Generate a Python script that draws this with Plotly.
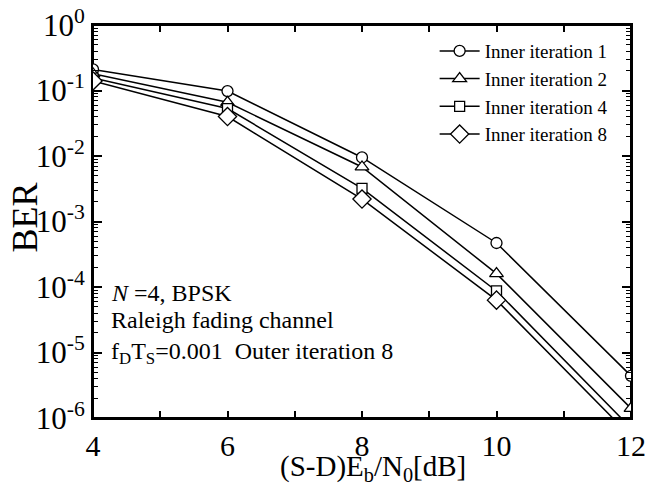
import plotly.graph_objects as go

snr_db = [4, 6, 8, 10, 12]
ber_inner1 = [0.21, 0.098, 0.0095, 4.7e-4, 4.4e-6]
ber_inner2 = [0.18, 0.066, 0.0068, 1.6e-4, 1.4e-6]
ber_inner4 = [0.155, 0.053, 0.0032, 8.7e-5, 7.0e-7]
ber_inner8 = [0.14, 0.040, 0.0022, 6.3e-5, 5.2e-7]

series_names = ["Inner iteration 1", "Inner iteration 2", "Inner iteration 4", "Inner iteration 8"]
series_values = [ber_inner1, ber_inner2, ber_inner4, ber_inner8]
symbols = ["circle", "triangle-up", "square", "diamond"]
sizes = [11, 12, 10, 14]

y_tick_vals = [1e0, 1e-1, 1e-2, 1e-3, 1e-4, 1e-5, 1e-6]
y_tick_text = ["10<sup>0</sup>", "10<sup>-1</sup>", "10<sup>-2</sup>", "10<sup>-3</sup>",
               "10<sup>-4</sup>", "10<sup>-5</sup>", "10<sup>-6</sup>"]
x_tick_vals = [4, 6, 8, 10, 12]

FONT = "Liberation Serif, Times New Roman, serif"

fig = go.Figure()
for name, vals, sym, sz in zip(series_names, series_values, symbols, sizes):
    fig.add_trace(go.Scatter(
        x=snr_db, y=vals, name=name, mode="lines+markers",
        line=dict(color="black", width=1.5),
        marker=dict(symbol=sym, size=sz, color="white",
                    line=dict(color="black", width=1.3)),
    ))

fig.update_layout(
    width=648, height=485,
    margin=dict(l=93, r=17, t=25, b=67),
    paper_bgcolor="white", plot_bgcolor="white",
    font=dict(family=FONT, color="black"),
    showlegend=True,
    legend=dict(x=0.635, y=0.982, xanchor="left", yanchor="top",
                bgcolor="rgba(0,0,0,0)", borderwidth=0,
                font=dict(size=19, family=FONT), itemwidth=40,
                tracegroupgap=0),
)

fig.update_xaxes(
    range=[4, 12], tickvals=x_tick_vals, ticktext=[str(v) for v in x_tick_vals],
    ticks="inside", ticklen=7, tickwidth=1.5, tickcolor="black",
    minor=dict(dtick=1, ticks="inside", ticklen=7, tickwidth=1.5, tickcolor="black"),
    showline=True, linecolor="black", linewidth=2, mirror="allticks",
    showgrid=False, zeroline=False, automargin=False,
    tickfont=dict(size=30, family=FONT),
    ticklabeloverflow="allow",
)

fig.update_yaxes(
    type="log", range=[-6, 0], tickvals=y_tick_vals, ticktext=y_tick_text,
    ticks="inside", ticklen=9, tickwidth=1.5, tickcolor="black",
    minor=dict(dtick="D1", ticks="inside", ticklen=5, tickwidth=1, tickcolor="black"),
    showline=True, linecolor="black", linewidth=2, mirror="allticks",
    showgrid=False, zeroline=False, automargin=False,
    tickfont=dict(size=31, family=FONT),
    ticklabeloverflow="allow",
)

# plot frame
fig.add_shape(type="rect", xref="paper", yref="paper", x0=0, y0=0, x1=1, y1=1,
              line=dict(color="black", width=2), fillcolor="rgba(0,0,0,0)", layer="below")

# axis titles
fig.add_annotation(xref="paper", yref="paper", x=0.52, y=-0.128, xanchor="center", yanchor="middle",
                   text="(S-D)E<sub>b</sub>/N<sub>0</sub>[dB]", showarrow=False,
                   font=dict(size=29, family=FONT, color="black"))
fig.add_annotation(xref="paper", yref="paper", x=-0.126, y=0.511, xanchor="center", yanchor="middle",
                   text="BER", textangle=-90, showarrow=False,
                   font=dict(size=36, family=FONT, color="black"))

ann_font = dict(size=24, family=FONT, color="black")
fig.add_annotation(xref="paper", yref="paper", x=0.03, y=0.318, xanchor="left", yanchor="middle",
                   text="<i>N</i> =4, BPSK", showarrow=False, font=ann_font)
fig.add_annotation(xref="paper", yref="paper", x=0.03, y=0.249, xanchor="left", yanchor="middle",
                   text="Raleigh fading channel", showarrow=False, font=ann_font)
fig.add_annotation(xref="paper", yref="paper", x=0.03, y=0.165, xanchor="left", yanchor="middle",
                   text="f<sub>D</sub>T<sub>S</sub>=0.001\u00a0\u00a0Outer iteration 8", showarrow=False, font=ann_font)

# remove the default 8px page margin so the figure sits at the window's corner
fig.write_html("out.html", config={"displayModeBar": False},
               post_script="document.body.style.margin='0';")
